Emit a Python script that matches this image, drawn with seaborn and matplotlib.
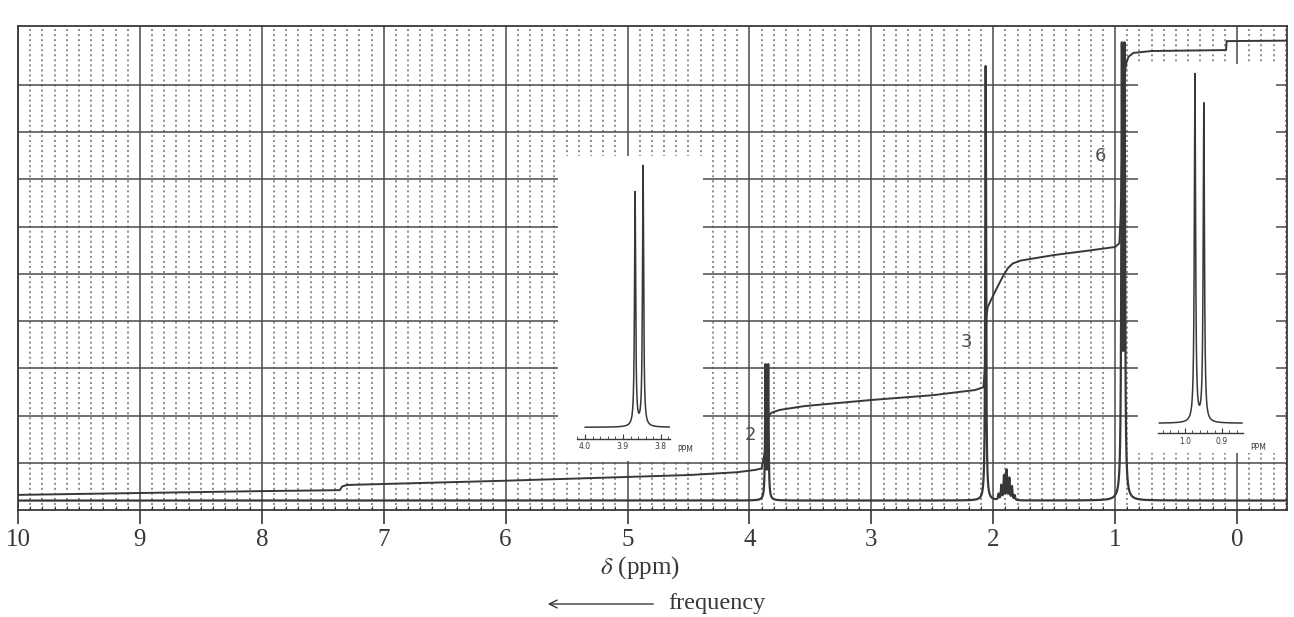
import numpy as np
import pandas as pd
import matplotlib
matplotlib.use("Agg")
import matplotlib.pyplot as plt
import seaborn as sns
from matplotlib.patches import Rectangle
from matplotlib.ticker import MultipleLocator, FixedLocator

# ---------------- data ----------------
# main spectrum: peak centres (ppm), heights above baseline (grid units), half-widths (ppm)
peak_ppm = [3.868, 3.846, 2.062,
            1.956, 1.934, 1.912, 1.890, 1.868, 1.846, 1.824,
            0.945, 0.923]
peak_height = [2.8, 2.8, 9.2,
               0.12, 0.30, 0.50, 0.62, 0.45, 0.28, 0.10,
               9.25, 9.25]
peak_hw = [0.004, 0.004, 0.004,
           0.004, 0.004, 0.004, 0.004, 0.004, 0.004, 0.004,
           0.005, 0.005]
baseline_level = 0.2

# integral trace (ppm, grid units)
integ_ppm = [10.0, 9.0, 8.0, 7.36, 7.34, 7.30, 6.0, 5.0, 4.5, 4.1, 3.95, 3.90,
             3.875, 3.86, 3.85, 3.84, 3.82, 3.75, 3.55, 3.3, 3.0, 2.5, 2.15,
             2.08, 2.068, 2.062, 2.056, 2.045, 1.98, 1.92, 1.88, 1.84, 1.78,
             1.5, 1.2, 1.0, 0.965, 0.955, 0.945, 0.935, 0.925, 0.91, 0.89,
             0.85, 0.7, 0.09, 0.085, -0.41]
integ_level = [0.32, 0.36, 0.40, 0.42, 0.50, 0.53, 0.62, 0.70, 0.74, 0.80, 0.85, 0.88,
               1.2, 1.55, 1.85, 2.0, 2.06, 2.12, 2.20, 2.26, 2.33, 2.43, 2.54,
               2.6, 3.0, 3.5, 4.1, 4.3, 4.65, 4.95, 5.12, 5.22, 5.28,
               5.40, 5.50, 5.57, 5.65, 6.2, 7.3, 8.4, 9.1, 9.45, 9.6,
               9.68, 9.72, 9.74, 9.93, 9.94]

# axis ticks
tick_ppm = [10, 9, 8, 7, 6, 5, 4, 3, 2, 1, 0]
tick_labels = ["10", "9", "8", "7", "6", "5", "4", "3", "2", "1", "0"]
hgrid_levels = [1, 2, 3, 4, 5, 6, 7, 8, 9]

# multiplicity labels
label_text = ["2", "3", "6"]
label_ppm = [3.995, 2.22, 1.12]
label_level = [1.58, 3.55, 7.5]

# inset 1 (OCH2 doublet)
ins1_peak_ppm = [3.868, 3.847]
ins1_peak_height = [0.84, 0.935]
ins1_baseline = 0.041
ins1_range = [4.0, 3.776]
ins1_ticks = [4.0, 3.9, 3.8]
ins1_ticklabels = ["4.0", "3.9", "3.8"]

# inset 2 (CH3 doublet)
ins2_peak_ppm = [0.973, 0.949]
ins2_peak_height = [0.954, 0.873]
ins2_baseline = 0.027
ins2_range = [1.07, 0.845]
ins2_ticks = [1.0, 0.9]
ins2_ticklabels = ["1.0", "0.9"]

# ---------------- style / layout ----------------
W, H = 1294, 617
sns.set_theme(style="white")
plt.rcParams["font.family"] = ["Liberation Serif", "DejaVu Sans"]
plt.rcParams["mathtext.fontset"] = "stix"
INK = "#383838"
XMAX, XMIN = 10.0, -0.41
YMIN, YMAX = 0.0, 10.25


def frac(x0, y_top, x1, y_bot):
    return [x0 / W, 1 - y_bot / H, (x1 - x0) / W, (y_bot - y_top) / H]


def lorentz_sum(x, centres, heights, hw, base):
    y = np.full_like(x, base, dtype=float)
    for c, h, w in zip(centres, heights, hw):
        y += h * w * w / ((x - c) ** 2 + w * w)
    return y


fig = plt.figure(figsize=(W / 100, H / 100), dpi=100)
fig.patch.set_facecolor("white")
ax = fig.add_axes(frac(18, 26, 1287, 510))
ax.set_facecolor("white")

# main spectrum
xs = np.sort(np.concatenate([np.linspace(XMIN, XMAX, 40001), peak_ppm]))[::-1]
spec = lorentz_sum(xs, peak_ppm, peak_height, peak_hw, baseline_level)
spec_df = pd.DataFrame({"ppm": xs, "level": spec})
sns.lineplot(data=spec_df, x="ppm", y="level", ax=ax, color=INK, lw=1.6,
             estimator=None, sort=False, legend=False, zorder=4)

# integral
int_df = pd.DataFrame({"ppm": integ_ppm, "level": integ_level})
sns.lineplot(data=int_df, x="ppm", y="level", ax=ax, color=INK, lw=1.4,
             estimator=None, sort=False, legend=False, zorder=4)

ax.set_xlim(XMAX, XMIN)
ax.set_ylim(YMIN, YMAX)
ax.set_xlabel("")
ax.set_ylabel("")

# grid (chart paper)
ax.set_axisbelow(True)
ax.set_xticks(tick_ppm, labels=tick_labels)
ax.xaxis.set_minor_locator(MultipleLocator(0.1))
ax.yaxis.set_major_locator(FixedLocator(hgrid_levels))
ax.grid(True, which="major", axis="both", color="#4a4a4a", lw=1.1, ls="-")
ax.grid(True, which="minor", axis="x", color="#6e6e6e", lw=1.1, ls=(0, (1.3, 2.0)))
ax.tick_params(axis="x", which="major", bottom=True, direction="out", length=10,
               width=1.2, color=INK, labelsize=18, labelcolor=INK, pad=4)
ax.tick_params(axis="x", which="minor", bottom=True, direction="in", length=3,
               width=0.8, color=INK)
ax.tick_params(axis="y", which="both", left=False, labelleft=False)
for s in ax.spines.values():
    s.set_visible(True)
    s.set_color(INK)
    s.set_linewidth(1.3)

# white inset panels on the chart paper
ax.add_patch(Rectangle((4.38, 1.04), 5.57 - 4.38, 7.5 - 1.04,
                       facecolor="white", edgecolor="none", zorder=3))
ax.add_patch(Rectangle((-0.32, 1.2), 0.81 + 0.32, 9.45 - 1.2,
                       facecolor="white", edgecolor="none", zorder=3))

# multiplicity labels
for t, p, l in zip(label_text, label_ppm, label_level):
    ax.text(p, l, t, fontsize=13, color="#505050", family="DejaVu Sans",
            ha="center", va="center", zorder=5)


def draw_inset(rect, xlim, centres, heights, hw, base, srange, ticks, ticklabels, ppm_x):
    a = fig.add_axes(rect)
    a.patch.set_alpha(0)
    xi = np.sort(np.concatenate([np.linspace(srange[1], srange[0], 3001), centres]))[::-1]
    yi = lorentz_sum(xi, centres, heights, [hw] * len(centres), base)
    sns.lineplot(x=xi, y=yi, ax=a, color=INK, lw=1.1, estimator=None,
                 sort=False, legend=False)
    a.set_xlim(*xlim)
    a.set_ylim(0, 1)
    a.set_xlabel("")
    a.set_ylabel("")
    for k in ("left", "right", "top"):
        a.spines[k].set_visible(False)
    a.spines["bottom"].set_visible(True)
    a.spines["bottom"].set_color(INK)
    a.spines["bottom"].set_linewidth(1.0)
    a.set_xticks(ticks, labels=ticklabels, fontsize=5.5, family="DejaVu Sans",
                 color=INK)
    a.xaxis.set_minor_locator(MultipleLocator(0.02))
    a.tick_params(axis="x", which="major", bottom=True, direction="in",
                  length=3.5, width=0.8, color=INK, pad=2.5)
    a.tick_params(axis="x", which="minor", bottom=True, direction="in",
                  length=2, width=0.6, color=INK)
    a.tick_params(axis="y", which="both", left=False, labelleft=False)
    a.grid(False)
    a.text(ppm_x, -0.04, "PPM", transform=a.transAxes, fontsize=5.5,
           family="DejaVu Sans", color=INK, ha="center", va="center")
    return a


draw_inset(frac(577, 160.3, 670, 438.7), (4.021, 3.776), ins1_peak_ppm,
           ins1_peak_height, 0.0018, ins1_baseline, ins1_range, ins1_ticks,
           ins1_ticklabels, 1.16)
draw_inset(frac(1158, 68.7, 1243, 433.1), (1.073, 0.843), ins2_peak_ppm,
           ins2_peak_height, 0.002, ins2_baseline, ins2_range, ins2_ticks,
           ins2_ticklabels, 1.18)

# axis title and frequency arrow
fig.text(640 / W, 1 - 568 / H, r"$\delta$ (ppm)", fontsize=18, color=INK,
         ha="center", va="center")
fig.text(668 / W, 1 - 603 / H, "frequency", fontsize=17.5, color=INK,
         ha="left", va="center")
ax.annotate("", xy=(545 / W, 1 - 604 / H), xytext=(656 / W, 1 - 604 / H),
            xycoords="figure fraction", textcoords="figure fraction",
            arrowprops=dict(arrowstyle="->", lw=1.0, color=INK,
                            mutation_scale=14))

fig.savefig("out.png", dpi=100, facecolor="white")
